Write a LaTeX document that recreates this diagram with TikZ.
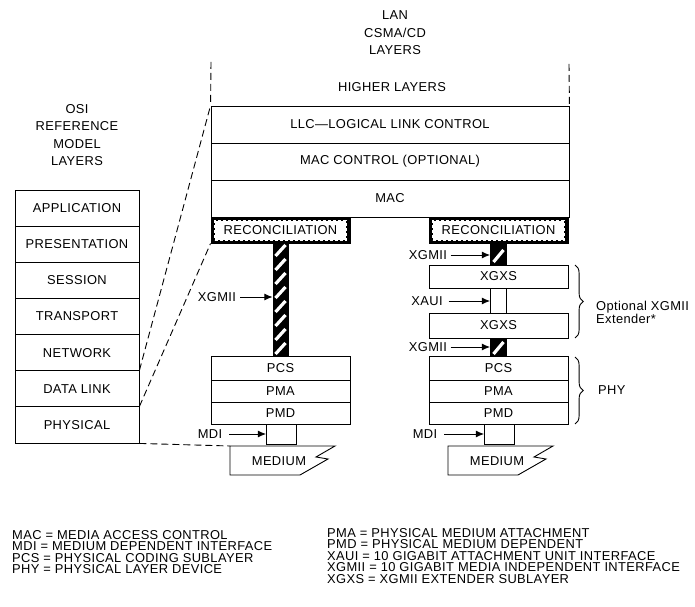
\documentclass[tikz,border=0pt]{standalone}
\usepackage{fontspec}
\setmainfont{Liberation Sans}[LetterSpace=3]
\usetikzlibrary{arrows.meta,decorations.pathreplacing}
\newlength{\du}
\setlength{\du}{0.8536pt}
\tikzset{
  layer/.style={draw, line width=0.9\du, inner sep=0pt, fill=white},
  bandbox/.style={draw, fill=black, line width=0.9\du, inner sep=0pt, minimum width=139\du, minimum height=26\du},
  bandtext/.style={fill=white, draw=white, line width=1.6\du, dash pattern=on 3\du off 2\du, inner sep=0pt, minimum width=131\du, minimum height=19\du},
  hatchbar/.style={draw, fill=black, line width=0.9\du, inner sep=0pt, minimum width=16\du},
  tag/.style={inner sep=1\du},
  pointer/.style={-{Latex[length=7pt,width=6pt]}, line width=0.8pt},
  osiline/.style={dash pattern=on 7\du off 4\du, line width=0.9\du},
  stripe/.style={white, line width=3.2\du},
  curly/.style={decorate, decoration={brace, amplitude=7pt}, line width=0.9\du}
}

\begin{document}
\begin{tikzpicture}[font=\fontsize{11}{13}\selectfont]
\pgftransformxscale{1.000000}
\pgftransformyscale{-1.000000}
\useasboundingbox (0\du,0\du) rectangle (695\du,607\du);

% headings
\node[align=center, font=\fontsize{11}{15}\selectfont] (lanhead) at (395\du,33\du) {LAN\\CSMA/CD\\LAYERS};
\node[align=center, font=\fontsize{11}{15}\selectfont] (osihead) at (77\du,135\du) {OSI\\REFERENCE\\MODEL\\LAYERS};

% OSI reference model
\node[layer, minimum width=124\du, minimum height=36.14\du] (app) at (77\du,208.07\du) {APPLICATION};
\node[layer, minimum width=124\du, minimum height=36.14\du] (pres) at (77\du,244.21\du) {PRESENTATION};
\node[layer, minimum width=124\du, minimum height=36.14\du] (sess) at (77\du,280.35\du) {SESSION};
\node[layer, minimum width=124\du, minimum height=36.14\du] (trans) at (77\du,316.49\du) {TRANSPORT};
\node[layer, minimum width=124\du, minimum height=36.14\du] (netw) at (77\du,352.63\du) {NETWORK};
\node[layer, minimum width=124\du, minimum height=36.14\du] (dlink) at (77\du,388.77\du) {DATA LINK};
\node[layer, minimum width=124\du, minimum height=36.14\du] (phys) at (77\du,424.91\du) {PHYSICAL};

% LAN CSMA/CD layers
\node (higher) at (392\du,87\du) {HIGHER LAYERS};
\coordinate (topL) at (211\du,62\du);
\coordinate (topR) at (569\du,64\du);
\node[layer, minimum width=358\du, minimum height=37\du] (llc) at (390\du,124.5\du) {LLC—LOGICAL LINK CONTROL};
\node[layer, minimum width=358\du, minimum height=37\du] (macctl) at (390\du,161.5\du) {MAC CONTROL (OPTIONAL)};
\node[layer, minimum width=358\du, minimum height=37\du] (mac) at (390\du,198.5\du) {MAC};

% left PHY stack
\node[bandbox] (reconL) at (280.5\du,230\du) {};
\node[bandtext] (reconLtxt) at (280.5\du,230.5\du) {RECONCILIATION};
\node[hatchbar, minimum width=15\du, minimum height=113\du] (barL) at (280.5\du,299.5\du) {};
\begin{scope}
\clip (barL.south west) rectangle (barL.north east);
\foreach \y in {256,270,284,298,312,326,340,354}
  \draw[stripe] (275.5\du,\y\du) -- ++(10\du,-11\du);
\end{scope}
\node[layer, minimum width=139\du, minimum height=24\du] (pcsL) at (280.5\du,368\du) {PCS};
\node[layer, minimum width=139\du, minimum height=22\du] (pmaL) at (280.5\du,391\du) {PMA};
\node[layer, minimum width=139\du, minimum height=22\du] (pmdL) at (280.5\du,413\du) {PMD};
\node[layer, minimum width=30\du, minimum height=20\du] (mdiL) at (281.5\du,434\du) {};
\draw[line width=0.9\du] (230\du,446\du) -- (335\du,446\du) -- (316\du,457\du) -- (328\du,459\du) -- (300\du,475\du) -- (230\du,475\du) -- cycle;
\coordinate (medLcorner) at (230\du,446\du);
\node (mediumL) at (279\du,461\du) {MEDIUM};

% right PHY stack
\node[bandbox] (reconR) at (498.5\du,230\du) {};
\node[bandtext] (reconRtxt) at (498.5\du,230.5\du) {RECONCILIATION};
\node[hatchbar, minimum height=22\du] (barR1) at (498.5\du,254\du) {};
\begin{scope}
\clip (barR1.south west) rectangle (barR1.north east);
\draw[stripe] (493.5\du,262\du) -- ++(10\du,-12\du);
\end{scope}
\node[layer, minimum width=139\du, minimum height=23\du] (xgxs1) at (498.5\du,276.5\du) {XGXS};
\node[layer, minimum width=16\du, minimum height=25\du] (xauibar) at (498.5\du,300.5\du) {};
\node[layer, minimum width=139\du, minimum height=25\du] (xgxs2) at (498.5\du,325.5\du) {XGXS};
\node[hatchbar, minimum height=18\du] (barR2) at (498.5\du,347\du) {};
\begin{scope}
\clip (barR2.south west) rectangle (barR2.north east);
\draw[stripe] (493.5\du,354\du) -- ++(10\du,-12\du);
\end{scope}
\node[layer, minimum width=139\du, minimum height=24\du] (pcsR) at (498.5\du,368\du) {PCS};
\node[layer, minimum width=139\du, minimum height=22\du] (pmaR) at (498.5\du,391\du) {PMA};
\node[layer, minimum width=139\du, minimum height=22\du] (pmdR) at (498.5\du,413\du) {PMD};
\node[layer, minimum width=30\du, minimum height=20\du] (mdiR) at (499.5\du,434\du) {};
\draw[line width=0.9\du] (448\du,446\du) -- (553\du,446\du) -- (534\du,457\du) -- (546\du,459\du) -- (518\du,475\du) -- (448\du,475\du) -- cycle;
\node (mediumR) at (497\du,461\du) {MEDIUM};

% OSI to LAN mapping
\draw[osiline] (topL) -- (llc.north west);
\draw[osiline] (topR) -- (llc.north east);
\draw[osiline] (dlink.north east) -- (llc.north west);
\draw[osiline] (phys.north east) -- (reconL.south west);
\draw[osiline] (phys.south east) -- (medLcorner);

% interface labels
\node[tag] (xgmiiL) at (217\du,297\du) {XGMII};
\draw[pointer] ([xshift=2.5pt]xgmiiL.east) -- (barL.west |- xgmiiL.east);
\node[tag] (mdiLtag) at (210\du,434\du) {MDI};
\draw[pointer] ([xshift=5pt]mdiLtag.east) -- (mdiL.west);
\node[tag] (xgmiiR1) at (428\du,255\du) {XGMII};
\draw[pointer] ([xshift=2pt]xgmiiR1.east) -- (barR1.west |- xgmiiR1.east);
\node[tag] (xauiR) at (427\du,301\du) {XAUI};
\draw[pointer] ([xshift=4pt]xauiR.east) -- (xauibar.west |- xauiR.east);
\node[tag] (xgmiiR2) at (428\du,347\du) {XGMII};
\draw[pointer] ([xshift=2pt]xgmiiR2.east) -- (barR2.west |- xgmiiR2.east);
\node[tag] (mdiRtag) at (425\du,434\du) {MDI};
\draw[pointer] ([xshift=5pt]mdiRtag.east) -- (mdiR.west);

% braces
\draw[curly] (575\du,265\du) -- (575\du,338\du);
\node[anchor=west, align=left, inner sep=0pt, font=\fontsize{11}{11}\selectfont] (extnote) at (596\du,312\du) {Optional XGMII\\Extender*};
\draw[curly] (575\du,357\du) -- (575\du,424\du);
\node[anchor=west, inner sep=0pt] (phynote) at (598\du,390\du) {PHY};

% legend
\node[anchor=west, align=left, inner sep=0pt, font=\fontsize{11}{9.8}\selectfont] (legendL) at (12\du,552\du) {MAC = MEDIA ACCESS CONTROL\\MDI = MEDIUM DEPENDENT INTERFACE\\PCS = PHYSICAL CODING SUBLAYER\\PHY = PHYSICAL LAYER DEVICE};
\node[anchor=west, align=left, inner sep=0pt, font=\fontsize{11}{9.8}\selectfont] (legendR) at (327\du,556\du) {PMA = PHYSICAL MEDIUM ATTACHMENT\\PMD = PHYSICAL MEDIUM DEPENDENT\\XAUI = 10 GIGABIT ATTACHMENT UNIT INTERFACE\\XGMII = 10 GIGABIT MEDIA INDEPENDENT INTERFACE\\XGXS = XGMII EXTENDER SUBLAYER};
\end{tikzpicture}
\end{document}
